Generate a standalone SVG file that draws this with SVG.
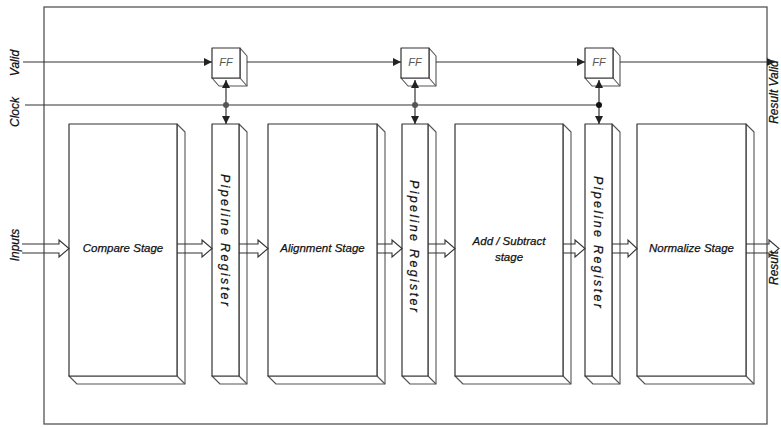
<svg xmlns="http://www.w3.org/2000/svg" width="781" height="427" viewBox="0 0 781 427">
<defs>
<style>
.frame{fill:none;stroke:#555;stroke-width:1.3}
.face{fill:#fff;stroke:#333;stroke-width:1.2;stroke-linejoin:round}
.side{fill:#fff;stroke:#555;stroke-width:1.1;stroke-linejoin:round}
.wire{fill:none;stroke:#333;stroke-width:1.2}
.bus{fill:none;stroke:#333;stroke-width:1.1;stroke-linejoin:miter}
.lbl{font-family:"Liberation Sans",Arial,sans-serif;font-style:italic;font-size:12px;fill:#111;stroke:#111;stroke-width:0.25}
.st{font-family:"Liberation Sans",Arial,sans-serif;font-style:italic;font-size:11.5px;fill:#111;stroke:#111;stroke-width:0.25;text-anchor:middle}
.pr{font-family:"Liberation Sans",Arial,sans-serif;font-style:italic;font-size:12.5px;fill:#111;stroke:#111;stroke-width:0.25;text-anchor:middle}
.ff{font-family:"Liberation Sans",Arial,sans-serif;font-style:italic;font-size:11px;fill:#555;text-anchor:middle}
</style>
<marker id="ah" viewBox="0 0 10 10" refX="10" refY="5" markerWidth="8" markerHeight="8" markerUnits="userSpaceOnUse" orient="auto">
<path d="M0,0 L10,5 L0,10 Z" fill="#222"/>
</marker>
</defs>
<rect width="781" height="427" fill="#fff"/>
<rect class="frame" x="44" y="7" width="723" height="417"/>

<g id="labels">
<text class="lbl" text-anchor="middle" transform="translate(19,63) rotate(-90)">Valid</text>
<text class="lbl" text-anchor="middle" transform="translate(19,112) rotate(-90)">Clock</text>
<text class="lbl" text-anchor="middle" transform="translate(19,245) rotate(-90)">Inputs</text>
<text class="lbl" text-anchor="middle" font-size="11" transform="translate(778,92) rotate(-90)">Result Valid</text>
<text class="lbl" text-anchor="middle" font-size="11" transform="translate(778,268) rotate(-90)">Result</text>
</g>

<g id="compare">
<path class="side" d="M177,124 L185,132 L185,384 L77,384 L69,376 L177,376 Z"/>
<line class="side" x1="177" y1="376" x2="185" y2="384"/>
<rect class="face" x="69" y="124" width="108" height="252"/>
<text class="st" x="123" y="252">Compare Stage</text>
</g>
<g id="reg1">
<path class="side" d="M239,124 L247,132 L247,384 L220,384 L212,376 L239,376 Z"/>
<line class="side" x1="239" y1="376" x2="247" y2="384"/>
<rect class="face" x="212" y="124" width="27" height="252"/>
<text class="pr" textLength="132" lengthAdjust="spacing" transform="translate(221,240) rotate(90)">Pipeline Register</text>
</g>
<g id="align">
<path class="side" d="M377,124 L385,132 L385,384 L276,384 L268,376 L377,376 Z"/>
<line class="side" x1="377" y1="376" x2="385" y2="384"/>
<rect class="face" x="268" y="124" width="109" height="252"/>
<text class="st" x="322.5" y="252">Alignment Stage</text>
</g>
<g id="reg2">
<path class="side" d="M428,124 L436,132 L436,384 L410,384 L402,376 L428,376 Z"/>
<line class="side" x1="428" y1="376" x2="436" y2="384"/>
<rect class="face" x="402" y="124" width="26" height="252"/>
<text class="pr" textLength="132" lengthAdjust="spacing" transform="translate(410,246) rotate(90)">Pipeline Register</text>
</g>
<g id="addsub">
<path class="side" d="M563,124 L571,132 L571,384 L463,384 L455,376 L563,376 Z"/>
<line class="side" x1="563" y1="376" x2="571" y2="384"/>
<rect class="face" x="455" y="124" width="108" height="252"/>
<text class="st" x="509" y="245">Add / Subtract</text>
<text class="st" x="509" y="261">stage</text>
</g>
<g id="reg3">
<path class="side" d="M612,124 L620,132 L620,384 L593,384 L585,376 L612,376 Z"/>
<line class="side" x1="612" y1="376" x2="620" y2="384"/>
<rect class="face" x="585" y="124" width="27" height="252"/>
<text class="pr" textLength="132" lengthAdjust="spacing" transform="translate(594,242) rotate(90)">Pipeline Register</text>
</g>
<g id="normalize">
<path class="side" d="M746,124 L754,132 L754,384 L645,384 L637,376 L746,376 Z"/>
<line class="side" x1="746" y1="376" x2="754" y2="384"/>
<rect class="face" x="637" y="124" width="109" height="252"/>
<text class="st" x="691.5" y="252">Normalize Stage</text>
</g>

<g id="ff1">
<path class="side" d="M240,48 L247,56 L247,86 L219,86 L212,78 L240,78 Z"/>
<line class="side" x1="240" y1="78" x2="247" y2="86"/>
<rect class="face" x="212" y="48" width="28" height="30"/>
<text class="ff" x="226" y="66">FF</text>
</g>
<g id="ff2">
<path class="side" d="M429,48 L436,56 L436,86 L408,86 L401,78 L429,78 Z"/>
<line class="side" x1="429" y1="78" x2="436" y2="86"/>
<rect class="face" x="401" y="48" width="28" height="30"/>
<text class="ff" x="415" y="66">FF</text>
</g>
<g id="ff3">
<path class="side" d="M613,48 L620,56 L620,86 L592,86 L585,78 L613,78 Z"/>
<line class="side" x1="613" y1="78" x2="620" y2="86"/>
<rect class="face" x="585" y="48" width="28" height="30"/>
<text class="ff" x="599" y="66">FF</text>
</g>

<g id="connectors">
<line class="wire" x1="23" y1="62" x2="212" y2="62" marker-end="url(#ah)"/>
<line class="wire" x1="247" y1="62" x2="401" y2="62" marker-end="url(#ah)"/>
<line class="wire" x1="436" y1="62" x2="585" y2="62" marker-end="url(#ah)"/>
<line class="wire" x1="620" y1="62" x2="775" y2="62" marker-end="url(#ah)"/>
<line class="wire" x1="25" y1="105" x2="599" y2="105"/>
<line class="wire" x1="226" y1="105" x2="226" y2="80" marker-end="url(#ah)"/>
<line class="wire" x1="226" y1="105" x2="226" y2="124" marker-end="url(#ah)"/>
<line class="wire" x1="415" y1="105" x2="415" y2="80" marker-end="url(#ah)"/>
<line class="wire" x1="415" y1="105" x2="415" y2="124" marker-end="url(#ah)"/>
<line class="wire" x1="599" y1="105" x2="599" y2="80" marker-end="url(#ah)"/>
<line class="wire" x1="599" y1="105" x2="599" y2="124" marker-end="url(#ah)"/>
<circle cx="226" cy="105" r="3" fill="#555"/>
<circle cx="415" cy="105" r="3" fill="#555"/>
<circle cx="599" cy="105" r="3" fill="#111"/>
<path class="bus" d="M22,244 H59 V240 L69,248.5 L59,257 V253 H22"/>
<path class="bus" d="M177,244 H202 V240 L212,248.5 L202,257 V253 H177"/>
<path class="bus" d="M239,244 H258 V240 L268,248.5 L258,257 V253 H239"/>
<path class="bus" d="M377,244 H392 V240 L402,248.5 L392,257 V253 H377"/>
<path class="bus" d="M428,244 H445 V240 L455,248.5 L445,257 V253 H428"/>
<path class="bus" d="M563,244 H575 V240 L585,248.5 L575,257 V253 H563"/>
<path class="bus" d="M612,244 H628 V240 L637,248.5 L628,257 V253 H612"/>
<path class="bus" d="M746,244 H769 V240 L779,248.5 L769,257 V253 H746"/>
</g>
</svg>
